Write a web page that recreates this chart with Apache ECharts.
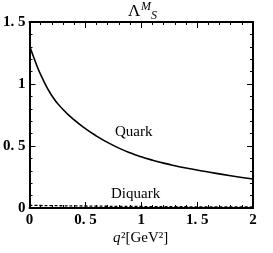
<!DOCTYPE html>
<html><head><meta charset="utf-8">
<script src="https://cdn.jsdelivr.net/npm/echarts@6/dist/echarts.min.js"></script>
<style>html,body{margin:0;padding:0;background:#fff}#c{width:273px;height:253px}</style>
</head><body><div id="c"></div>
<script>
const q2 = [0, 0.05, 0.1, 0.2, 0.3, 0.4, 0.5, 0.6, 0.7, 0.8, 0.9, 1.0, 1.1, 1.2, 1.3, 1.4, 1.6, 1.8, 2.0];
const quark = [1.31, 1.185, 1.075, 0.905, 0.795, 0.71, 0.64, 0.58, 0.528, 0.483, 0.445, 0.413, 0.386, 0.362, 0.341, 0.322, 0.29, 0.26, 0.234];
const diquark = [0.022, 0.021, 0.020, 0.019, 0.018, 0.017, 0.016, 0.015, 0.014, 0.0135, 0.013, 0.012, 0.0115, 0.011, 0.0105, 0.010, 0.009, 0.0085, 0.008];
const xTicks = [0, 0.5, 1, 1.5, 2];
const yTicks = [0, 0.5, 1, 1.5];
const F = 'Liberation Serif';
const fmt = v => (v === 0 ? '0' : String(v).replace('.', '. '));
const pair = (xs, ys) => xs.map((x, i) => [x, ys[i]]);
const X0 = xTicks[0], X1 = xTicks[xTicks.length - 1], Y0 = yTicks[0], Y1 = yTicks[yTicks.length - 1];
const chart = echarts.init(document.getElementById('c'));
const line = () => ({show: true, onZero: false, lineStyle: {color: '#000', width: 2}});
const tk = () => ({show: true, inside: true, length: 6, lineStyle: {color: '#000', width: 1}});
const mt = () => ({show: true, splitNumber: 5, length: 3, lineStyle: {color: '#000', width: 1}});
const lbl = (m) => ({show: true, color: '#000', fontFamily: F, fontSize: 15, fontWeight: 'bold', margin: m, formatter: fmt});
const txt = (text, left, top, size, style) => ({text, left, top, padding: 0, textStyle: {fontFamily: F, fontSize: size, fontWeight: 'normal', fontStyle: style || 'normal', color: '#000'}});
chart.setOption({
  animation: false,
  title: [
    txt('Λ', 128, 3, 17),
    txt('M', 141, 1, 12, 'italic'),
    txt('S', 151, 10, 12, 'italic'),
    txt('Quark', 115, 125, 15),
    txt('Diquark', 111, 187, 15),
    txt('q', 113, 231, 15, 'italic'),
    txt('²[GeV²]', 121, 231, 15)
  ],
  grid: {left: 29, right: 20, top: 22, bottom: 45},
  xAxis: [
    {type: 'value', min: X0, max: X1, interval: 0.5, position: 'bottom', axisLine: line(), splitLine: {show: false}, axisTick: tk(), minorTick: mt(), axisLabel: lbl(5)},
    {type: 'value', min: X0, max: X1, interval: 0.5, position: 'top', axisLine: line(), splitLine: {show: false}, axisTick: tk(), minorTick: mt(), axisLabel: {show: false}}
  ],
  yAxis: [
    {type: 'value', min: Y0, max: Y1, interval: 0.5, position: 'left', axisLine: line(), splitLine: {show: false}, axisTick: tk(), minorTick: mt(), axisLabel: lbl(4)},
    {type: 'value', min: Y0, max: Y1, interval: 0.5, position: 'right', axisLine: line(), splitLine: {show: false}, axisTick: tk(), minorTick: mt(), axisLabel: {show: false}}
  ],
  series: [
    {type: 'line', name: 'Quark', data: pair(q2, quark), smooth: true, showSymbol: false, lineStyle: {color: '#000', width: 1.6}},
    {type: 'line', name: 'Diquark', data: pair(q2, diquark), smooth: true, showSymbol: false, lineStyle: {color: '#000', width: 1.3, type: [3, 2]}}
  ]
});
</script></body></html>
